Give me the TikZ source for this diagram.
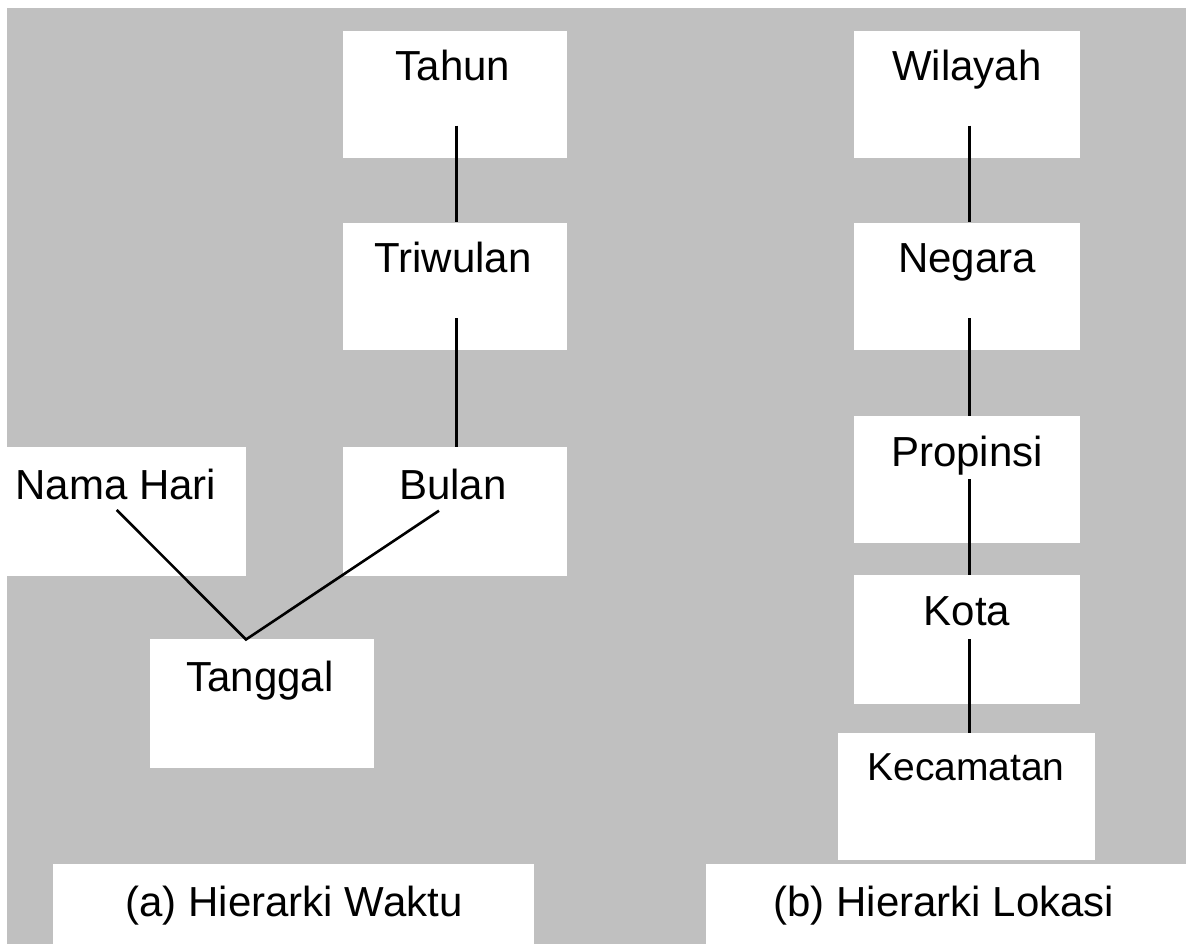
\documentclass[tikz,border=0pt]{standalone}
\usepackage{fontspec}
\setmainfont{Liberation Sans}
\usetikzlibrary{fit}
\definecolor{bg}{HTML}{C0C0C0}
\tikzset{
  box/.style={fill=white, draw=none, inner sep=0pt},
  lbl/.style={inner sep=0pt, anchor=base, font=\fontsize{42}{50}\selectfont},
  smalllbl/.style={lbl, font=\fontsize{39}{46}\selectfont},
  conn/.style={draw=black, line width=2.6pt}
}
\begin{document}
\begin{tikzpicture}[x=1pt,y=-1pt]
\useasboundingbox (0,0) rectangle (1186,944);
\fill[white] (0,0) rectangle (1186,944);
\fill[bg] (7,8) rectangle (1186,944);

% boxes - left
\node[box, fit={(342.7,31) (566.7,157.7)}] (tahun) {};
\node[box, fit={(342.7,222.7) (566.7,350)}] (triwulan) {};
\node[box, fit={(342.7,446.7) (566.7,575.7)}] (bulan) {};
\node[box, fit={(7,446.7) (246,575.7)}] (namahari) {};
\node[box, fit={(150,639.3) (374,767.5)}] (tanggal) {};
% boxes - right
\node[box, fit={(854,31) (1080,157.7)}] (wilayah) {};
\node[box, fit={(854,222.7) (1080,350)}] (negara) {};
\node[box, fit={(854,416) (1080,542.6)}] (propinsi) {};
\node[box, fit={(854,575) (1080,704)}] (kota) {};
\node[box, fit={(838,732.7) (1095,859.7)}] (kecamatan) {};
% caption boxes
\node[box, fit={(53,864) (534,944)}] (capA) {};
\node[box, fit={(706,864) (1186,944)}] (capB) {};

% texts
\node[lbl] (tahunT) at (453,81) {Tahun};
\node[lbl] (triwulanT) at (453,272.7) {Triwulan};
\node[lbl] (bulanT) at (453,499) {Bulan};
\node[lbl] (namahariT) at (116,499) {Nama Hari};
\node[lbl] (tanggalT) at (260,691.5) {Tanggal};
\node[lbl] (wilayahT) at (967,81) {Wilayah};
\node[lbl] (negaraT) at (967,272.7) {Negara};
\node[lbl] (propinsiT) at (967,466) {Propinsi};
\node[lbl] (kotaT) at (967,625) {Kota};
\node[smalllbl] (kecamatanT) at (966,780) {Kecamatan};
\node[lbl] (capAT) at (294,916) {(a) Hierarki Waktu};
\node[lbl] (capBT) at (944,916) {(b) Hierarki Lokasi};

% connector start points
\coordinate (tahunS) at (456.7,125.7);
\coordinate (triwulanS) at (456.7,318);
\coordinate (namahariS) at (116.7,510);
\coordinate (bulanS) at (439,510.7);
\coordinate (apex) at (246,639.5);
\coordinate (wilayahS) at (969.7,125.7);
\coordinate (negaraS) at (969.7,318);
\coordinate (propinsiS) at (969.7,479);
\coordinate (kotaS) at (969.7,639);

% connectors
\draw[conn] (tahunS) -- (tahunS |- triwulan.north);
\draw[conn] (triwulanS) -- (triwulanS |- bulan.north);
\draw[conn] (namahariS) -- (apex) -- (bulanS);
\draw[conn] (wilayahS) -- (wilayahS |- negara.north);
\draw[conn] (negaraS) -- (negaraS |- propinsi.north);
\draw[conn] (propinsiS) -- (propinsiS |- kota.north);
\draw[conn] (kotaS) -- (kotaS |- kecamatan.north);
\end{tikzpicture}
\end{document}
